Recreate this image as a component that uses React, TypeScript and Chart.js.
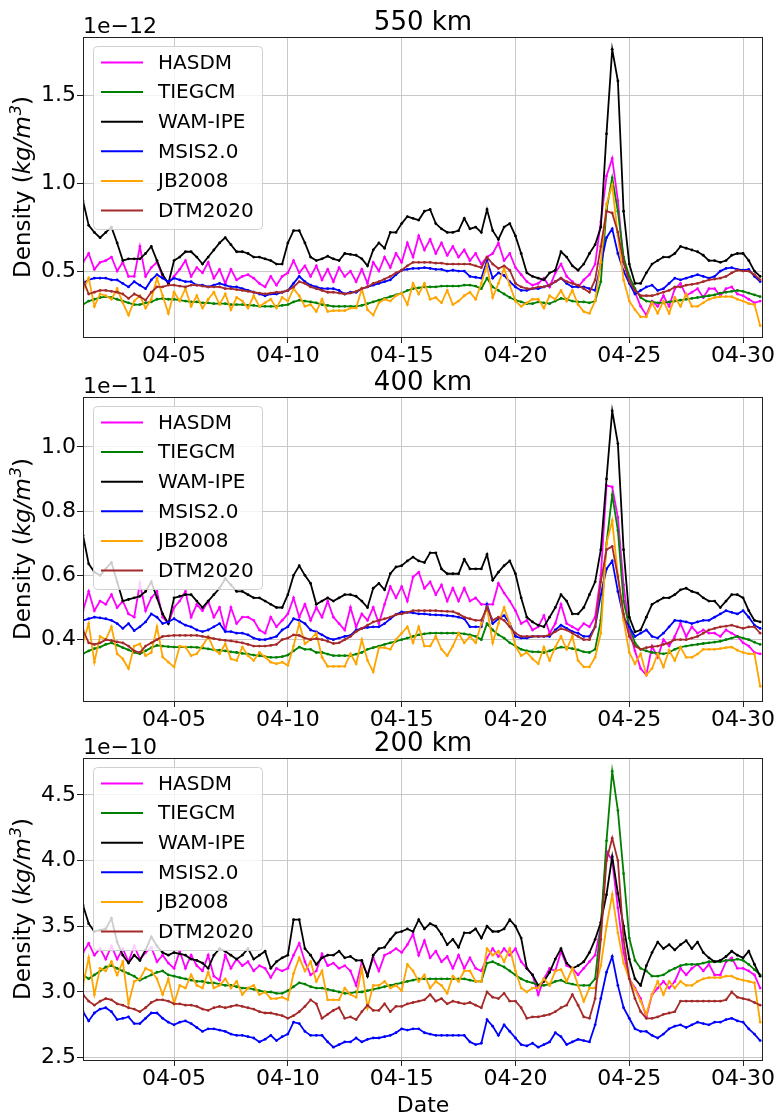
import React, { useEffect, useRef } from "react";
import { Chart, registerables } from "chart.js";

Chart.register(...registerables);

// 6-hourly samples, days since 04-01 00:00
const sampleDays = Array.from({ length: 120 }, (_, i) => i * 0.25);
const xMaxDay = 29.875;

const xTickDays = [4, 9, 14, 19, 24, 29];
const xTickLabels = ["04-05", "04-10", "04-15", "04-20", "04-25", "04-30"];

const modelNames = ["HASDM", "TIEGCM", "WAM-IPE", "MSIS2.0", "JB2008", "DTM2020"];
const modelColors = ["#ff00ff", "#008000", "#000000", "#0000ff", "#ffa500", "#a52a2a"];

// ---------------- 550 km (x 1e-12 kg/m^3) ----------------
const hasdm550 = [
  0.55,0.60,0.51,0.55, 0.56,0.58,0.50,0.55, 0.47,0.47,0.64,0.47, 0.52,0.55,0.47,0.43, 0.47,0.51,0.56,0.47,
  0.52,0.49,0.55,0.46, 0.51,0.43,0.51,0.45, 0.47,0.48,0.46,0.43, 0.41,0.47,0.42,0.47, 0.49,0.56,0.49,0.53,
  0.47,0.53,0.45,0.51, 0.44,0.52,0.47,0.50, 0.44,0.51,0.43,0.55, 0.50,0.58,0.52,0.60, 0.55,0.66,0.58,0.70,
  0.62,0.68,0.60,0.66, 0.59,0.64,0.58,0.62, 0.56,0.60,0.54,0.58, 0.60,0.66,0.56,0.60, 0.52,0.48,0.44,0.42,
  0.43,0.46,0.41,0.49, 0.54,0.47,0.44,0.41, 0.45,0.48,0.54,0.78, 1.04,1.14,0.90,0.55, 0.45,0.38,0.30,0.25,
  0.33,0.30,0.36,0.30, 0.40,0.43,0.36,0.38, 0.40,0.35,0.40,0.40, 0.36,0.40,0.41,0.37, 0.36,0.34,0.32,0.33,
];
const tiegcm550 = [
  0.31,0.33,0.34,0.35, 0.355,0.35,0.34,0.33, 0.32,0.31,0.31,0.32, 0.325,0.34,0.345,0.34, 0.34,0.335,0.33,0.325,
  0.325,0.32,0.32,0.315, 0.315,0.315,0.31,0.31, 0.31,0.305,0.305,0.30, 0.30,0.30,0.30,0.305, 0.31,0.325,0.335,0.33,
  0.325,0.32,0.31,0.305, 0.30,0.30,0.30,0.30, 0.30,0.305,0.315,0.325, 0.335,0.345,0.355,0.365, 0.375,0.39,0.40,0.405,
  0.41,0.41,0.41,0.415, 0.415,0.415,0.415,0.42, 0.42,0.415,0.40,0.46, 0.41,0.39,0.37,0.35, 0.335,0.325,0.315,0.315,
  0.325,0.32,0.315,0.33, 0.345,0.34,0.33,0.325, 0.325,0.32,0.33,0.44, 0.85,1.03,0.84,0.58, 0.47,0.40,0.35,0.33,
  0.325,0.32,0.32,0.325, 0.33,0.335,0.34,0.345, 0.35,0.355,0.36,0.365, 0.375,0.38,0.385,0.39, 0.385,0.375,0.365,0.355,
];
const wam550 = [
  0.90,0.76,0.72,0.69, 0.72,0.75,0.66,0.56, 0.57,0.57,0.57,0.60, 0.64,0.56,0.48,0.43, 0.56,0.58,0.61,0.61,
  0.58,0.54,0.58,0.62, 0.66,0.69,0.65,0.61, 0.61,0.60,0.58,0.58, 0.57,0.56,0.54,0.54, 0.66,0.73,0.73,0.66,
  0.58,0.56,0.57,0.585, 0.57,0.56,0.60,0.595, 0.59,0.57,0.53,0.62, 0.66,0.63,0.72,0.72, 0.77,0.81,0.80,0.79,
  0.84,0.85,0.77,0.74, 0.72,0.72,0.73,0.80, 0.74,0.75,0.72,0.85, 0.73,0.68,0.75,0.77, 0.70,0.60,0.49,0.47,
  0.46,0.45,0.49,0.505, 0.61,0.58,0.53,0.505, 0.54,0.60,0.65,0.75, 1.28,1.76,1.58,0.84, 0.54,0.43,0.43,0.49,
  0.54,0.56,0.58,0.58, 0.60,0.64,0.63,0.62, 0.61,0.59,0.56,0.56, 0.55,0.56,0.59,0.60, 0.60,0.56,0.50,0.47,
];
const msis550 = [
  0.43,0.45,0.46,0.46, 0.46,0.45,0.45,0.43, 0.41,0.44,0.42,0.40, 0.45,0.48,0.46,0.44, 0.46,0.45,0.44,0.44,
  0.42,0.42,0.41,0.42, 0.43,0.42,0.41,0.41, 0.40,0.39,0.38,0.37, 0.36,0.37,0.37,0.38, 0.39,0.43,0.47,0.44,
  0.42,0.41,0.40,0.40, 0.40,0.39,0.37,0.38, 0.38,0.40,0.41,0.42, 0.43,0.44,0.45,0.48, 0.505,0.51,0.515,0.515,
  0.52,0.515,0.51,0.51, 0.50,0.505,0.50,0.50, 0.47,0.465,0.46,0.56, 0.46,0.49,0.475,0.44, 0.41,0.39,0.39,0.40,
  0.40,0.41,0.42,0.44, 0.46,0.43,0.41,0.41, 0.41,0.40,0.39,0.54, 0.69,0.74,0.60,0.50, 0.43,0.37,0.39,0.41,
  0.42,0.39,0.40,0.43, 0.46,0.45,0.46,0.47, 0.48,0.47,0.46,0.47, 0.50,0.515,0.52,0.51, 0.505,0.51,0.47,0.44,
];
const jb550 = [
  0.39,0.46,0.30,0.37, 0.36,0.34,0.40,0.32, 0.25,0.33,0.36,0.29, 0.34,0.46,0.36,0.26, 0.38,0.33,0.40,0.30,
  0.36,0.29,0.34,0.38, 0.31,0.37,0.28,0.35, 0.33,0.29,0.36,0.30, 0.32,0.34,0.29,0.35, 0.33,0.40,0.36,0.30,
  0.31,0.27,0.34,0.27, 0.275,0.275,0.275,0.29, 0.29,0.40,0.28,0.25, 0.32,0.34,0.33,0.36, 0.375,0.31,0.43,0.37,
  0.43,0.34,0.35,0.32, 0.39,0.31,0.33,0.36, 0.38,0.34,0.43,0.535, 0.35,0.43,0.515,0.42, 0.33,0.30,0.32,0.34,
  0.34,0.29,0.36,0.34, 0.39,0.33,0.39,0.31, 0.27,0.26,0.33,0.55, 0.88,0.99,0.70,0.45, 0.33,0.28,0.24,0.24,
  0.32,0.26,0.33,0.26, 0.35,0.30,0.37,0.30, 0.30,0.32,0.34,0.35, 0.355,0.355,0.355,0.34, 0.33,0.315,0.31,0.19,
];
const dtm550 = [
  0.45,0.37,0.38,0.39, 0.39,0.385,0.38,0.37, 0.345,0.37,0.355,0.335, 0.38,0.41,0.41,0.42, 0.42,0.415,0.41,0.42,
  0.42,0.415,0.41,0.41, 0.41,0.40,0.40,0.395, 0.39,0.385,0.38,0.375, 0.37,0.375,0.38,0.38, 0.39,0.41,0.44,0.43,
  0.41,0.40,0.39,0.38, 0.38,0.375,0.37,0.375, 0.385,0.40,0.41,0.43, 0.44,0.455,0.47,0.49, 0.505,0.53,0.55,0.55,
  0.55,0.55,0.545,0.545, 0.54,0.54,0.54,0.54, 0.54,0.53,0.52,0.58, 0.54,0.515,0.53,0.505, 0.43,0.41,0.40,0.40,
  0.41,0.41,0.42,0.44, 0.46,0.44,0.43,0.42, 0.40,0.38,0.45,0.64, 0.84,0.83,0.72,0.55, 0.44,0.39,0.36,0.36,
  0.36,0.37,0.38,0.39, 0.41,0.41,0.42,0.425, 0.43,0.44,0.45,0.455, 0.46,0.47,0.49,0.505, 0.50,0.50,0.48,0.45,
];

// ---------------- 400 km (x 1e-11 kg/m^3) ----------------
const hasdm400 = [
  0.49,0.55,0.49,0.52, 0.51,0.54,0.50,0.52, 0.48,0.47,0.575,0.49, 0.53,0.55,0.47,0.45, 0.50,0.52,0.55,0.47,
  0.51,0.49,0.52,0.47, 0.50,0.43,0.50,0.45, 0.47,0.47,0.46,0.43, 0.42,0.47,0.44,0.46, 0.48,0.53,0.47,0.51,
  0.46,0.50,0.47,0.52, 0.47,0.45,0.43,0.50, 0.44,0.48,0.46,0.50, 0.45,0.51,0.565,0.53, 0.565,0.52,0.595,0.61,
  0.56,0.58,0.54,0.57, 0.52,0.56,0.52,0.56, 0.52,0.53,0.51,0.51, 0.51,0.575,0.545,0.52, 0.49,0.45,0.46,0.43,
  0.44,0.475,0.42,0.45, 0.51,0.45,0.44,0.43, 0.45,0.44,0.47,0.60, 0.88,0.875,0.78,0.57, 0.43,0.365,0.31,0.29,
  0.38,0.345,0.40,0.38, 0.41,0.45,0.41,0.44, 0.42,0.43,0.42,0.42, 0.41,0.43,0.42,0.41, 0.39,0.38,0.36,0.356,
];
const tiegcm400 = [
  0.356,0.365,0.372,0.377, 0.385,0.39,0.383,0.375, 0.368,0.36,0.356,0.365, 0.375,0.382,0.38,0.378, 0.377,0.377,0.377,0.377,
  0.376,0.374,0.371,0.368, 0.367,0.365,0.362,0.36, 0.357,0.355,0.352,0.35, 0.347,0.345,0.345,0.347, 0.352,0.365,0.377,0.37,
  0.37,0.36,0.36,0.355, 0.35,0.35,0.35,0.35, 0.355,0.36,0.37,0.375, 0.38,0.385,0.39,0.395, 0.40,0.405,0.41,0.415,
  0.418,0.42,0.42,0.42, 0.42,0.42,0.42,0.418, 0.415,0.41,0.40,0.45, 0.43,0.415,0.405,0.39, 0.38,0.37,0.365,0.362,
  0.362,0.36,0.365,0.372, 0.377,0.375,0.372,0.368, 0.362,0.36,0.37,0.46, 0.70,0.85,0.74,0.52, 0.44,0.39,0.37,0.365,
  0.36,0.358,0.356,0.36, 0.37,0.377,0.38,0.383, 0.385,0.388,0.39,0.392, 0.395,0.40,0.405,0.41, 0.405,0.40,0.392,0.385,
];
const wam400 = [
  0.725,0.636,0.61,0.60, 0.62,0.64,0.58,0.52, 0.525,0.53,0.535,0.55, 0.58,0.53,0.48,0.45, 0.53,0.535,0.54,0.54,
  0.52,0.50,0.52,0.54, 0.56,0.59,0.57,0.55, 0.55,0.54,0.53,0.53, 0.52,0.51,0.50,0.50, 0.54,0.60,0.63,0.60,
  0.575,0.51,0.52,0.53, 0.52,0.53,0.54,0.54, 0.535,0.52,0.50,0.56, 0.575,0.555,0.605,0.626, 0.63,0.645,0.657,0.645,
  0.64,0.67,0.67,0.62, 0.605,0.605,0.605,0.65, 0.62,0.62,0.62,0.665, 0.585,0.61,0.63,0.645, 0.605,0.53,0.47,0.455,
  0.445,0.44,0.47,0.50, 0.54,0.52,0.48,0.48, 0.50,0.54,0.58,0.68, 0.90,1.112,1.01,0.68, 0.47,0.424,0.43,0.47,
  0.51,0.52,0.53,0.53, 0.54,0.555,0.56,0.55, 0.545,0.53,0.52,0.52, 0.50,0.52,0.54,0.54, 0.53,0.49,0.46,0.455,
];
const msis400 = [
  0.46,0.465,0.47,0.468, 0.465,0.46,0.45,0.435, 0.45,0.428,0.44,0.455, 0.48,0.47,0.45,0.455, 0.465,0.455,0.445,0.44,
  0.43,0.425,0.43,0.44, 0.45,0.425,0.425,0.42, 0.42,0.415,0.405,0.40, 0.40,0.405,0.41,0.43, 0.44,0.465,0.46,0.45,
  0.43,0.424,0.415,0.405, 0.40,0.405,0.41,0.413, 0.43,0.435,0.438,0.44, 0.44,0.45,0.465,0.478, 0.486,0.485,0.483,0.48,
  0.48,0.478,0.477,0.476, 0.475,0.473,0.47,0.465, 0.44,0.44,0.44,0.51, 0.45,0.465,0.475,0.45, 0.41,0.405,0.405,0.41,
  0.41,0.41,0.41,0.43, 0.445,0.435,0.425,0.42, 0.41,0.41,0.44,0.54, 0.62,0.645,0.55,0.47, 0.44,0.41,0.42,0.43,
  0.41,0.405,0.42,0.44, 0.46,0.458,0.455,0.45, 0.455,0.46,0.46,0.47, 0.48,0.49,0.485,0.48, 0.49,0.47,0.445,0.435,
];
const jb400 = [
  0.39,0.45,0.33,0.41, 0.40,0.44,0.356,0.34, 0.31,0.38,0.387,0.35, 0.36,0.44,0.346,0.33, 0.315,0.38,0.377,0.35,
  0.356,0.38,0.41,0.37, 0.356,0.387,0.34,0.335, 0.377,0.35,0.335,0.36, 0.346,0.33,0.325,0.33, 0.32,0.38,0.45,0.387,
  0.40,0.42,0.345,0.317, 0.317,0.317,0.317,0.356, 0.325,0.40,0.335,0.30, 0.375,0.375,0.37,0.40, 0.42,0.44,0.39,0.44,
  0.38,0.38,0.41,0.37, 0.35,0.38,0.42,0.39, 0.41,0.39,0.45,0.50, 0.39,0.45,0.50,0.45, 0.38,0.35,0.36,0.34,
  0.325,0.377,0.335,0.377, 0.41,0.37,0.41,0.335, 0.315,0.315,0.345,0.42, 0.70,0.77,0.60,0.46, 0.36,0.325,0.356,0.29,
  0.31,0.356,0.315,0.367, 0.335,0.377,0.345,0.345, 0.355,0.37,0.37,0.37, 0.372,0.375,0.377,0.367, 0.36,0.356,0.356,0.255,
];
const dtm400 = [
  0.43,0.39,0.385,0.39, 0.40,0.397,0.393,0.39, 0.38,0.365,0.36,0.38, 0.39,0.40,0.41,0.412, 0.413,0.413,0.413,0.413,
  0.413,0.41,0.407,0.403, 0.40,0.398,0.396,0.393, 0.39,0.385,0.38,0.38, 0.38,0.382,0.385,0.40, 0.405,0.415,0.413,0.405,
  0.40,0.403,0.40,0.395, 0.388,0.39,0.40,0.41, 0.425,0.435,0.445,0.455, 0.46,0.465,0.47,0.478, 0.48,0.485,0.49,0.49,
  0.49,0.49,0.49,0.489, 0.488,0.487,0.48,0.47, 0.465,0.46,0.46,0.50, 0.46,0.47,0.46,0.44, 0.42,0.41,0.41,0.41,
  0.41,0.41,0.415,0.425, 0.434,0.43,0.42,0.41, 0.40,0.40,0.44,0.58, 0.68,0.69,0.595,0.48, 0.41,0.38,0.37,0.375,
  0.378,0.38,0.385,0.39, 0.40,0.40,0.40,0.405, 0.41,0.42,0.43,0.435, 0.44,0.442,0.445,0.44, 0.435,0.44,0.44,0.42,
];

// ---------------- 200 km (x 1e-10 kg/m^3) ----------------
const hasdm200 = [
  3.30,3.37,3.28,3.33, 3.25,3.35,3.25,3.33, 3.23,3.35,3.25,3.30, 3.34,3.23,3.28,3.22, 3.18,3.31,3.18,3.28,
  3.20,3.16,3.28,3.12, 3.09,3.28,3.18,3.25, 3.20,3.23,3.16,3.20, 3.18,3.11,3.18,3.16, 3.18,3.28,3.37,3.23,
  3.13,3.16,3.29,3.20, 3.22,3.18,3.20,3.16, 3.05,3.23,3.13,3.26, 3.16,3.28,3.30,3.33, 3.30,3.36,3.44,3.28,
  3.39,3.26,3.31,3.23, 3.27,3.18,3.28,3.18, 3.26,3.18,3.16,3.26, 3.33,3.27,3.33,3.28, 3.33,3.23,3.18,3.13,
  2.98,3.10,3.18,3.16, 3.31,3.20,3.18,3.13, 3.18,3.23,3.28,3.50, 4.07,4.00,3.64,3.30, 3.10,3.03,2.95,2.81,
  2.98,3.03,3.08,3.03, 3.08,3.18,3.13,3.18, 3.21,3.16,3.21,3.13, 3.13,3.23,3.26,3.18, 3.18,3.16,3.13,3.03,
];
const tiegcm200 = [
  3.13,3.10,3.13,3.16, 3.19,3.20,3.18,3.16, 3.14,3.12,3.09,3.11, 3.13,3.15,3.16,3.13, 3.12,3.11,3.10,3.09,
  3.08,3.08,3.07,3.07, 3.06,3.05,3.05,3.04, 3.03,3.03,3.02,3.01, 3.00,3.00,2.99,2.99, 3.01,3.04,3.07,3.06,
  3.04,3.03,3.03,3.02, 3.01,3.00,2.99,2.99, 3.00,3.00,3.01,3.02, 3.03,3.04,3.05,3.06, 3.07,3.08,3.09,3.10,
  3.10,3.10,3.10,3.10, 3.10,3.10,3.10,3.10, 3.09,3.08,3.08,3.22, 3.23,3.21,3.19,3.16, 3.13,3.10,3.08,3.07,
  3.05,3.05,3.06,3.08, 3.09,3.07,3.06,3.05, 3.05,3.05,3.10,3.50, 4.15,4.68,4.38,3.90, 3.41,3.24,3.18,3.16,
  3.12,3.12,3.13,3.16, 3.18,3.20,3.21,3.21, 3.21,3.22,3.23,3.23, 3.23,3.24,3.24,3.25, 3.24,3.21,3.17,3.13,
];
const wam200 = [
  3.66,3.52,3.46,3.47, 3.48,3.56,3.38,3.28, 3.22,3.28,3.24,3.32, 3.42,3.35,3.30,3.28, 3.30,3.29,3.28,3.25,
  3.24,3.22,3.18,3.28, 3.33,3.31,3.28,3.25, 3.28,3.33,3.25,3.28, 3.31,3.18,3.23,3.26, 3.28,3.55,3.55,3.33,
  3.28,3.21,3.26,3.28, 3.28,3.31,3.26,3.27, 3.24,3.24,3.12,3.28, 3.33,3.34,3.40,3.45, 3.46,3.48,3.46,3.55,
  3.48,3.52,3.50,3.44, 3.36,3.40,3.34,3.45, 3.45,3.48,3.41,3.50, 3.46,3.46,3.48,3.55, 3.50,3.41,3.18,3.13,
  3.05,3.08,3.15,3.25, 3.33,3.22,3.18,3.20, 3.23,3.30,3.40,3.53, 3.74,4.03,3.75,3.50, 3.25,3.10,3.05,3.20,
  3.30,3.38,3.33,3.36, 3.32,3.36,3.39,3.33, 3.38,3.30,3.26,3.23, 3.24,3.27,3.31,3.28, 3.26,3.31,3.21,3.12,
];
const msis200 = [
  2.85,2.78,2.84,2.87, 2.88,2.85,2.79,2.80, 2.81,2.76,2.76,2.80, 2.84,2.84,2.80,2.77, 2.75,2.77,2.78,2.76,
  2.73,2.70,2.72,2.72, 2.71,2.70,2.68,2.67, 2.67,2.66,2.65,2.62, 2.64,2.67,2.63,2.66, 2.68,2.77,2.76,2.70,
  2.67,2.67,2.67,2.62, 2.58,2.60,2.62,2.62, 2.65,2.62,2.64,2.65, 2.65,2.66,2.67,2.69, 2.72,2.71,2.72,2.72,
  2.69,2.68,2.67,2.67, 2.67,2.67,2.67,2.67, 2.62,2.60,2.61,2.79, 2.74,2.67,2.75,2.70, 2.65,2.60,2.59,2.61,
  2.58,2.60,2.62,2.69, 2.66,2.60,2.62,2.64, 2.63,2.62,2.75,2.95, 3.15,3.27,3.05,2.88, 2.80,2.72,2.70,2.70,
  2.67,2.65,2.68,2.72, 2.74,2.75,2.73,2.75, 2.77,2.76,2.75,2.77, 2.77,2.79,2.80,2.78, 2.77,2.72,2.68,2.63,
];
const jb200 = [
  3.05,3.26,2.98,3.18, 3.16,3.23,3.13,3.23, 2.91,3.08,3.10,3.18, 3.16,3.10,2.98,3.10, 2.91,3.05,3.03,3.13,
  3.05,3.03,3.15,3.03, 3.05,3.10,3.03,3.08, 2.98,3.03,3.05,2.98, 3.00,2.95,2.95,2.96, 2.94,3.14,3.26,3.16,
  3.23,3.08,3.16,2.94, 2.94,2.94,3.03,2.98, 2.96,3.18,2.88,3.05, 3.05,3.08,3.03,3.05, 3.01,3.21,3.16,3.08,
  3.13,3.03,3.08,3.05, 2.99,3.12,3.08,3.16, 3.16,3.08,3.08,3.33, 3.28,3.31,3.23,3.33, 3.16,3.03,3.00,3.03,
  3.03,3.10,3.05,3.16, 3.17,3.08,3.18,3.05, 2.93,3.03,3.03,3.20, 3.50,3.74,3.45,3.22, 3.10,3.02,2.93,2.83,
  2.98,3.08,2.98,3.08, 3.03,3.08,3.05,3.05, 3.08,3.10,3.11,3.11, 3.11,3.12,3.12,3.10, 3.09,3.08,3.07,2.77,
];
const dtm200 = [
  2.98,2.93,2.90,2.93, 2.95,2.94,2.91,2.90, 2.88,2.87,2.85,2.88, 2.92,2.94,2.94,2.93, 2.91,2.91,2.90,2.90,
  2.89,2.87,2.86,2.88, 2.89,2.88,2.89,2.90, 2.89,2.88,2.87,2.85, 2.84,2.84,2.83,2.82, 2.80,2.82,2.85,2.89,
  2.94,2.91,2.80,2.83, 2.86,2.88,2.80,2.81, 2.79,2.85,2.90,2.86, 2.86,2.91,2.85,2.89, 2.89,2.91,2.92,2.93,
  2.94,2.98,2.93,2.95, 2.91,2.93,2.92,2.91, 2.92,2.90,2.88,3.00, 2.96,2.95,2.99,2.93, 2.93,2.88,2.80,2.81,
  2.81,2.82,2.83,2.85, 2.88,2.90,2.98,2.90, 2.81,2.80,2.95,3.40, 4.00,4.17,4.00,3.40, 3.10,2.95,2.85,2.80,
  2.80,2.81,2.83,2.84, 2.85,2.93,2.93,2.93, 2.93,2.93,2.93,2.93, 2.93,2.94,3.00,2.96, 2.95,2.94,2.92,2.90,
];

const yTicks550 = [0.5, 1.0, 1.5];
const yTickLabels550 = ["0.5", "1.0", "1.5"];
const yTicks400 = [0.4, 0.6, 0.8, 1.0];
const yTickLabels400 = ["0.4", "0.6", "0.8", "1.0"];
const yTicks200 = [2.5, 3.0, 3.5, 4.0, 4.5];
const yTickLabels200 = ["2.5", "3.0", "3.5", "4.0", "4.5"];

const FONT = '"DejaVu Sans", "Liberation Sans", sans-serif';
const W = 778;

type Panel = {
  title: string;
  exponent: string;
  series: number[][];
  yMin: number;
  yMax: number;
  yTicks: number[];
  yTickLabels: string[];
  top: number;
  height: number;
  areaTop: number;
  areaBottom: number;
  showDate: boolean;
};

const panels: Panel[] = [
  {
    title: "550 km", exponent: "1e\u221212",
    series: [hasdm550, tiegcm550, wam550, msis550, jb550, dtm550],
    yMin: 0.12, yMax: 1.83, yTicks: yTicks550, yTickLabels: yTickLabels550,
    top: 0, height: 365, areaTop: 37, areaBottom: 338, showDate: false,
  },
  {
    title: "400 km", exponent: "1e\u221211",
    series: [hasdm400, tiegcm400, wam400, msis400, jb400, dtm400],
    yMin: 0.206, yMax: 1.155, yTicks: yTicks400, yTickLabels: yTickLabels400,
    top: 365, height: 365, areaTop: 32, areaBottom: 337, showDate: false,
  },
  {
    title: "200 km", exponent: "1e\u221210",
    series: [hasdm200, tiegcm200, wam200, msis200, jb200, dtm200],
    yMin: 2.475, yMax: 4.78, yTicks: yTicks200, yTickLabels: yTickLabels200,
    top: 730, height: 387, areaTop: 28, areaBottom: 331, showDate: true,
  },
];

function makeDecor(p: Panel) {
  return {
    id: "decor",
    afterDatasetsDraw(chart: any) {
      const ctx = chart.ctx as CanvasRenderingContext2D;
      const a = chart.chartArea;
      ctx.save();
      // frame (spines)
      ctx.strokeStyle = "#222";
      ctx.lineWidth = 1;
      ctx.strokeRect(a.left + 0.5, a.top + 0.5, a.right - a.left - 1, a.bottom - a.top - 1);
      // legend
      const lx = a.left + 10, ly = a.top + 9, lw = 169, lh = 183;
      ctx.beginPath();
      if ((ctx as any).roundRect) (ctx as any).roundRect(lx + 0.5, ly + 0.5, lw, lh, 4);
      else ctx.rect(lx + 0.5, ly + 0.5, lw, lh);
      ctx.fillStyle = "rgba(255,255,255,0.8)";
      ctx.fill();
      ctx.strokeStyle = "rgba(204,204,204,0.9)";
      ctx.lineWidth = 1;
      ctx.stroke();
      modelNames.forEach((name, i) => {
        const cy = ly + 16.5 + i * 29.6;
        ctx.strokeStyle = modelColors[i];
        ctx.lineWidth = 2;
        ctx.beginPath();
        ctx.moveTo(lx + 8, cy);
        ctx.lineTo(lx + 50, cy);
        ctx.stroke();
        ctx.fillStyle = "#000";
        ctx.font = `20px ${FONT}`;
        ctx.textAlign = "left";
        ctx.textBaseline = "middle";
        ctx.fillText(name, lx + 65, cy + 1);
      });
      ctx.restore();
    },
    afterDraw(chart: any) {
      const ctx = chart.ctx as CanvasRenderingContext2D;
      const a = chart.chartArea;
      ctx.save();
      ctx.fillStyle = "#000";
      ctx.textBaseline = "alphabetic";
      // title
      ctx.font = `26px ${FONT}`;
      ctx.textAlign = "center";
      ctx.fillText(p.title, (a.left + a.right) / 2, a.top - 7);
      // offset text
      ctx.font = `22px ${FONT}`;
      ctx.textAlign = "left";
      ctx.fillText(p.exponent, a.left, a.top - 4);
      // y label: Density (kg/m^3)
      const parts = [
        { t: "Density (", f: `23px ${FONT}`, dy: 0 },
        { t: "kg/m", f: `italic 23px ${FONT}`, dy: 0 },
        { t: "3", f: `italic 16px ${FONT}`, dy: -9 },
        { t: ")", f: `23px ${FONT}`, dy: 0 },
      ];
      let total = 0;
      const widths = parts.map((pt) => {
        ctx.font = pt.f;
        const w = ctx.measureText(pt.t).width;
        total += w;
        return w;
      });
      ctx.translate(30, (a.top + a.bottom) / 2);
      ctx.rotate(-Math.PI / 2);
      let u = -total / 2;
      parts.forEach((pt, i) => {
        ctx.font = pt.f;
        ctx.fillText(pt.t, u, pt.dy);
        u += widths[i] + (i === 1 ? 1 : 0);
      });
      ctx.setTransform(1, 0, 0, 1, 0, 0);
      if (p.showDate) {
        ctx.font = `22px ${FONT}`;
        ctx.textAlign = "center";
        ctx.fillText("Date", (a.left + a.right) / 2, 382);
      }
      ctx.restore();
    },
  };
}

function PanelChart({ p }: { p: Panel }) {
  const ref = useRef<HTMLCanvasElement | null>(null);
  useEffect(() => {
    if (!ref.current) return;
    const chart = new Chart(ref.current, {
      type: "line",
      data: {
        datasets: p.series.map((vals, i) => ({
          label: modelNames[i],
          data: vals.map((v, j) => ({ x: sampleDays[j], y: v })),
          borderColor: modelColors[i],
          backgroundColor: modelColors[i],
          borderWidth: 1.8,
          pointRadius: 1.4,
          pointBorderWidth: 0,
          pointBackgroundColor: modelColors[i],
          tension: 0,
          fill: false,
          order: 5 - i,
        })),
      },
      options: {
        responsive: false,
        animation: false,
        devicePixelRatio: 1,
        events: [],
        layout: { padding: { top: p.areaTop, right: W - 763, left: 0, bottom: 0 } },
        plugins: {
          legend: { display: false },
          tooltip: { enabled: false },
          title: { display: false },
        },
        scales: {
          x: {
            type: "linear",
            min: 0,
            max: xMaxDay,
            afterBuildTicks: (s: any) => {
              s.ticks = xTickDays.map((v) => ({ value: v }));
            },
            afterFit: (s: any) => {
              s.height = p.height - p.areaBottom;
            },
            ticks: {
              autoSkip: false,
              maxRotation: 0,
              minRotation: 0,
              padding: 0,
              color: "#000",
              font: { family: FONT, size: 22 },
              callback: (_v: any, i: number) => xTickLabels[i],
            },
            grid: { color: "#c8c8c8", lineWidth: 1, drawTicks: true, tickLength: 5, tickColor: "#222", tickWidth: 1 },
            border: { display: false },
          },
          y: {
            type: "linear",
            min: p.yMin,
            max: p.yMax,
            afterBuildTicks: (s: any) => {
              s.ticks = p.yTicks.map((v) => ({ value: v }));
            },
            afterFit: (s: any) => {
              s.width = 83;
            },
            ticks: {
              padding: 1,
              color: "#000",
              font: { family: FONT, size: 22 },
              callback: (_v: any, i: number) => p.yTickLabels[i],
            },
            grid: { color: "#c8c8c8", lineWidth: 1, drawTicks: true, tickLength: 6, tickColor: "#222", tickWidth: 1 },
            border: { display: false },
          },
        },
      },
      plugins: [makeDecor(p)],
    } as any);
    return () => chart.destroy();
  }, [p]);
  return (
    <canvas
      ref={ref}
      width={W}
      height={p.height}
      style={{ position: "absolute", left: 0, top: p.top, width: W, height: p.height, display: "block" }}
    />
  );
}

export default function App() {
  return (
    <div style={{ position: "absolute", left: 0, top: 0, width: W, height: 1117, background: "#fff", overflow: "hidden" }}>
      {panels.map((p) => (
        <PanelChart key={p.title} p={p} />
      ))}
    </div>
  );
}
